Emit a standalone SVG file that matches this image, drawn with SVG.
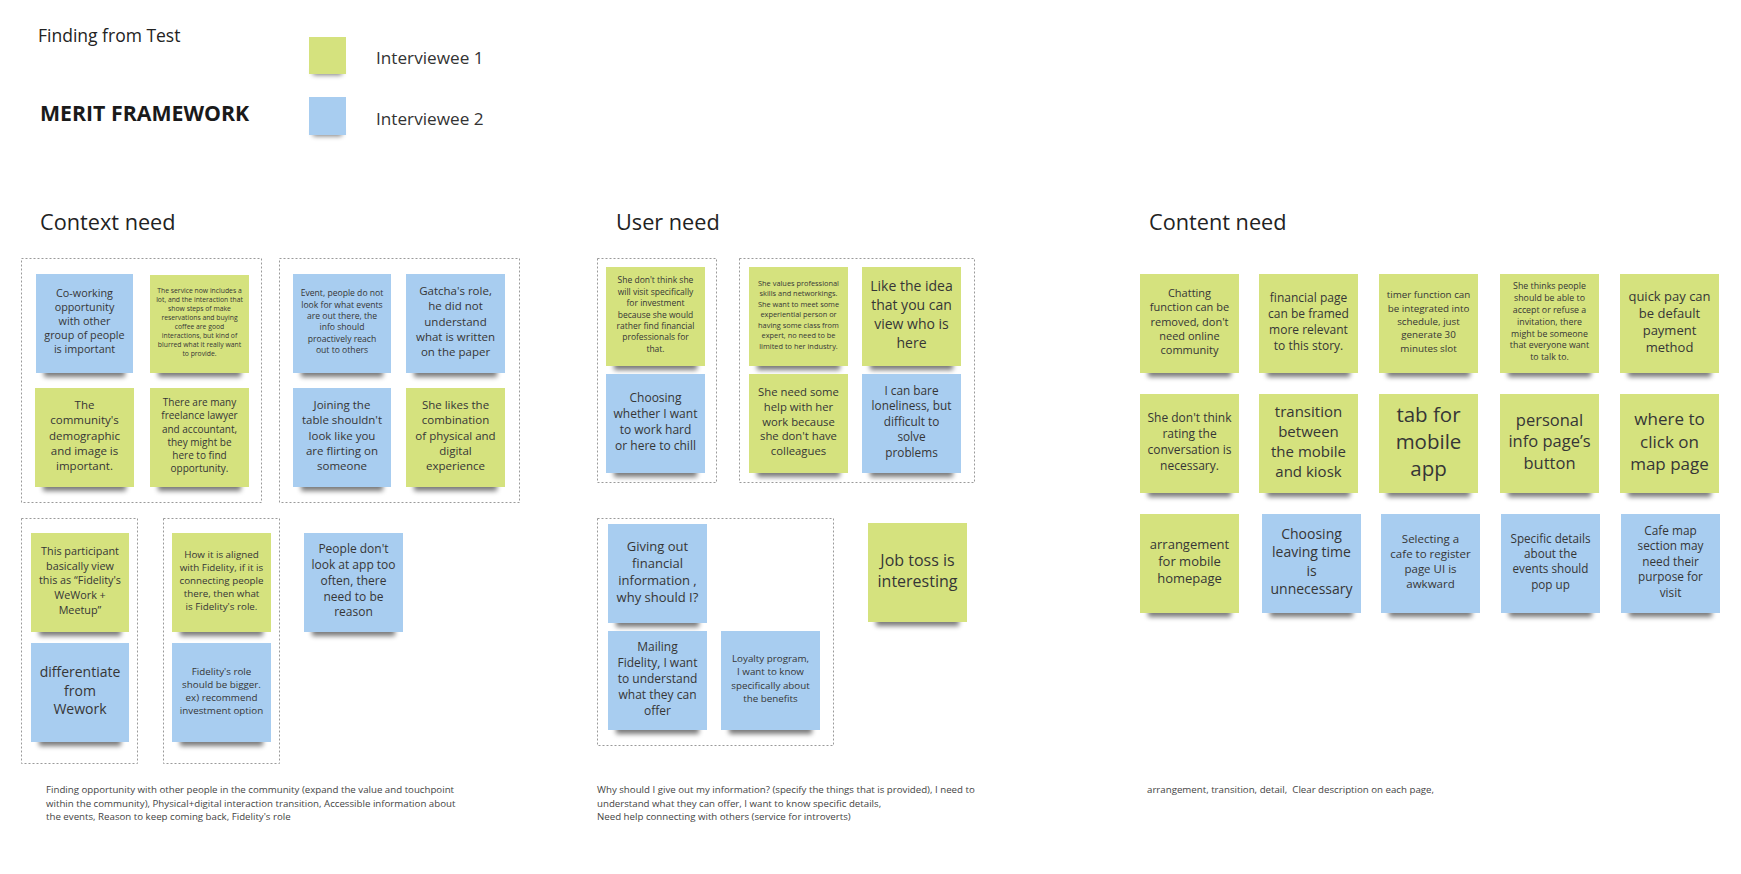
<svg xmlns="http://www.w3.org/2000/svg" width="1741" height="874" viewBox="0 0 1741 874">
<defs>
<filter id="blur" x="-20%" y="-100%" width="140%" height="300%"><feGaussianBlur stdDeviation="2.6"/></filter>
</defs>
<style>
text{font-family:"Open Sans","Liberation Sans",sans-serif;fill:#363636}
.note text{text-anchor:middle}
.g{fill:#d5e27e}
.b{fill:#a8cdf0}
.sh{fill:#000;opacity:.52;filter:url(#blur)}
.box{fill:none;stroke:#9a9a9a;stroke-width:1;stroke-dasharray:2 2}
.h1{font-size:17.5px;fill:#222}
.h2{font-size:21.7px;fill:#222}
.lg{font-size:17.2px;fill:#333}
.fn{font-size:9.7px;fill:#444}
</style>
<rect width="1741" height="874" fill="#fff"/>

<g id="header">
<text class="h1" x="38" y="42">Finding from Test</text>
<text x="40" y="121" style="font-size:21.3px;font-weight:700;fill:#1a1a1a">MERIT FRAMEWORK</text>
<rect class="sh" x="313" y="68" width="29" height="7"/>
<rect class="g" x="309" y="37" width="37" height="37"/>
<rect class="sh" x="313" y="129" width="29" height="7"/>
<rect class="b" x="309" y="97" width="37" height="38"/>
<text class="lg" x="376" y="64">Interviewee 1</text>
<text class="lg" x="376" y="125">Interviewee 2</text>
<text class="h2" x="40" y="230">Context need</text>
<text class="h2" x="616" y="230">User need</text>
<text class="h2" x="1149" y="230">Content need</text>
</g>

<g id="connectors"></g>

<g id="frames">
<rect class="box" x="21.5" y="258.5" width="240" height="244"/>
<rect class="box" x="279.5" y="258.5" width="240" height="244"/>
<rect class="box" x="21.5" y="518.5" width="116" height="245"/>
<rect class="box" x="163.5" y="518.5" width="116" height="245"/>
<rect class="box" x="597.5" y="258.5" width="119" height="224"/>
<rect class="box" x="739.5" y="258.5" width="235" height="224"/>
<rect class="box" x="597.5" y="518.5" width="236" height="227"/>
</g>

<!-- Context need -->
<g id="n-cowork" class="note"><rect class="sh" x="44" y="367" width="81" height="10"/><rect class="b" x="36" y="274" width="97" height="99"/>
<text style="font-size:10.8px"><tspan x="84.5" y="297.4">Co-working</tspan><tspan x="84.5" y="311.4">opportunity</tspan><tspan x="84.5" y="325.4">with other</tspan><tspan x="84.5" y="339.4">group of people</tspan><tspan x="84.5" y="353.4">is important</tspan></text></g>

<g id="n-service" class="note"><rect class="sh" x="158" y="367" width="83" height="10"/><rect class="g" x="150" y="275" width="99" height="98"/>
<text style="font-size:6.8px"><tspan x="199.5" y="293">The service now includes a</tspan><tspan x="199.5" y="302">lot, and the interaction that</tspan><tspan x="199.5" y="311">show steps of make</tspan><tspan x="199.5" y="320">reservations and buying</tspan><tspan x="199.5" y="329">coffee are good</tspan><tspan x="199.5" y="338">interactions, but kind of</tspan><tspan x="199.5" y="347">blurred what it really want</tspan><tspan x="199.5" y="356">to provide.</tspan></text></g>

<g id="n-demographic" class="note"><rect class="sh" x="43" y="481" width="83" height="10"/><rect class="g" x="35" y="388" width="99" height="99"/>
<text style="font-size:11.5px"><tspan x="84.5" y="409">The</tspan><tspan x="84.5" y="424.3">community's</tspan><tspan x="84.5" y="439.6">demographic</tspan><tspan x="84.5" y="454.9">and image is</tspan><tspan x="84.5" y="470.2">important.</tspan></text></g>

<g id="n-freelance" class="note"><rect class="sh" x="158" y="481" width="83" height="10"/><rect class="g" x="150" y="388" width="99" height="99"/>
<text style="font-size:10px"><tspan x="199.5" y="406.1">There are many</tspan><tspan x="199.5" y="419.3">freelance lawyer</tspan><tspan x="199.5" y="432.5">and accountant,</tspan><tspan x="199.5" y="445.7">they might be</tspan><tspan x="199.5" y="458.9">here to find</tspan><tspan x="199.5" y="472.1">opportunity.</tspan></text></g>

<g id="n-event" class="note"><rect class="sh" x="301" y="367" width="82" height="10"/><rect class="b" x="293" y="274" width="98" height="99"/>
<text style="font-size:8.6px"><tspan x="342" y="296.4">Event, people do not</tspan><tspan x="342" y="307.7">look for what events</tspan><tspan x="342" y="319">are out there, the</tspan><tspan x="342" y="330.3">info should</tspan><tspan x="342" y="341.6">proactively reach</tspan><tspan x="342" y="352.9">out to others</tspan></text></g>

<g id="n-gatcha" class="note"><rect class="sh" x="414" y="367" width="83" height="10"/><rect class="b" x="406" y="274" width="99" height="99"/>
<text style="font-size:11.5px"><tspan x="455.5" y="294.8">Gatcha's role,</tspan><tspan x="455.5" y="310.2">he did not</tspan><tspan x="455.5" y="325.6">understand</tspan><tspan x="455.5" y="341">what is written</tspan><tspan x="455.5" y="356.4">on the paper</tspan></text></g>

<g id="n-joining" class="note"><rect class="sh" x="301" y="481" width="82" height="10"/><rect class="b" x="293" y="388" width="98" height="99"/>
<text style="font-size:11.5px"><tspan x="342" y="408.8">Joining the</tspan><tspan x="342" y="424.2">table shouldn't</tspan><tspan x="342" y="439.6">look like you</tspan><tspan x="342" y="455">are flirting on</tspan><tspan x="342" y="470.4">someone</tspan></text></g>

<g id="n-likes" class="note"><rect class="sh" x="414" y="481" width="83" height="10"/><rect class="g" x="406" y="388" width="99" height="99"/>
<text style="font-size:11.5px"><tspan x="455.5" y="408.8">She likes the</tspan><tspan x="455.5" y="424.2">combination</tspan><tspan x="455.5" y="439.6">of physical and</tspan><tspan x="455.5" y="455">digital</tspan><tspan x="455.5" y="470.4">experience</tspan></text></g>

<g id="n-participant" class="note"><rect class="sh" x="39" y="626" width="82" height="10"/><rect class="g" x="31" y="533" width="98" height="99"/>
<text style="font-size:10.8px"><tspan x="80" y="555.2">This participant</tspan><tspan x="80" y="569.8">basically view</tspan><tspan x="80" y="584.4">this as “Fidelity's</tspan><tspan x="80" y="599">WeWork +</tspan><tspan x="80" y="613.6">Meetup”</tspan></text></g>

<g id="n-differentiate" class="note"><rect class="sh" x="39" y="736" width="82" height="10"/><rect class="b" x="31" y="643" width="98" height="99"/>
<text style="font-size:14px"><tspan x="80" y="676.7">differentiate</tspan><tspan x="80" y="695.5">from</tspan><tspan x="80" y="714.3">Wework</tspan></text></g>

<g id="n-aligned" class="note"><rect class="sh" x="180" y="626" width="83" height="10"/><rect class="g" x="172" y="533" width="99" height="99"/>
<text style="font-size:9.8px"><tspan x="221.5" y="557.6">How it is aligned</tspan><tspan x="221.5" y="570.8">with Fidelity, if it is</tspan><tspan x="221.5" y="584">connecting people</tspan><tspan x="221.5" y="597.2">there, then what</tspan><tspan x="221.5" y="610.4">is Fidelity's role.</tspan></text></g>

<g id="n-role" class="note"><rect class="sh" x="180" y="736" width="83" height="10"/><rect class="b" x="172" y="643" width="99" height="99"/>
<text style="font-size:9.8px"><tspan x="221.5" y="674.5">Fidelity's role</tspan><tspan x="221.5" y="687.5">should be bigger.</tspan><tspan x="221.5" y="700.5">ex) recommend</tspan><tspan x="221.5" y="713.5">investment option</tspan></text></g>

<g id="n-app" class="note"><rect class="sh" x="312" y="626" width="83" height="10"/><rect class="b" x="304" y="533" width="99" height="99"/>
<text style="font-size:12px"><tspan x="353.5" y="553.2">People don't</tspan><tspan x="353.5" y="569">look at app too</tspan><tspan x="353.5" y="584.8">often, there</tspan><tspan x="353.5" y="600.6">need to be</tspan><tspan x="353.5" y="616.4">reason</tspan></text></g>

<!-- User need -->
<g id="n-visit" class="note"><rect class="sh" x="614" y="360" width="83" height="10"/><rect class="g" x="606" y="267" width="99" height="99"/>
<text style="font-size:8.5px"><tspan x="655.5" y="283.4">She don't think she</tspan><tspan x="655.5" y="294.8">will visit specifically</tspan><tspan x="655.5" y="306.2">for investment</tspan><tspan x="655.5" y="317.6">because she would</tspan><tspan x="655.5" y="329">rather find financial</tspan><tspan x="655.5" y="340.4">professionals for</tspan><tspan x="655.5" y="351.8">that.</tspan></text></g>

<g id="n-choosing" class="note"><rect class="sh" x="614" y="467" width="83" height="10"/><rect class="b" x="606" y="374" width="99" height="99"/>
<text style="font-size:12px"><tspan x="655.5" y="402.1">Choosing</tspan><tspan x="655.5" y="417.9">whether I want</tspan><tspan x="655.5" y="433.7">to work hard</tspan><tspan x="655.5" y="449.5">or here to chill</tspan></text></g>

<g id="n-values" class="note"><rect class="sh" x="757" y="360" width="83" height="10"/><rect class="g" x="749" y="267" width="99" height="99"/>
<text style="font-size:7.4px"><tspan x="798.5" y="285.7">She values professional</tspan><tspan x="798.5" y="296.2">skills and networkings.</tspan><tspan x="798.5" y="306.7">She want to meet some</tspan><tspan x="798.5" y="317.2">experiential person or</tspan><tspan x="798.5" y="327.7">having some class from</tspan><tspan x="798.5" y="338.2">expert, no need to be</tspan><tspan x="798.5" y="348.7">limited to her industry.</tspan></text></g>

<g id="n-idea" class="note"><rect class="sh" x="870" y="360" width="83" height="10"/><rect class="g" x="862" y="267" width="99" height="99"/>
<text style="font-size:14px"><tspan x="911.5" y="290.7">Like the idea</tspan><tspan x="911.5" y="309.9">that you can</tspan><tspan x="911.5" y="329.1">view who is</tspan><tspan x="911.5" y="348.3">here</tspan></text></g>

<g id="n-help" class="note"><rect class="sh" x="757" y="467" width="83" height="10"/><rect class="g" x="749" y="374" width="99" height="99"/>
<text style="font-size:11.3px"><tspan x="798.5" y="396">She need some</tspan><tspan x="798.5" y="410.8">help with her</tspan><tspan x="798.5" y="425.6">work because</tspan><tspan x="798.5" y="440.4">she don't have</tspan><tspan x="798.5" y="455.2">colleagues</tspan></text></g>

<g id="n-loneliness" class="note"><rect class="sh" x="870" y="467" width="83" height="10"/><rect class="b" x="862" y="374" width="99" height="99"/>
<text style="font-size:11.8px"><tspan x="911.5" y="394.6">I can bare</tspan><tspan x="911.5" y="410.2">loneliness, but</tspan><tspan x="911.5" y="425.8">difficult to</tspan><tspan x="911.5" y="441.4">solve</tspan><tspan x="911.5" y="457">problems</tspan></text></g>

<g id="n-giving" class="note"><rect class="sh" x="616" y="617" width="83" height="10"/><rect class="b" x="608" y="524" width="99" height="99"/>
<text style="font-size:13px"><tspan x="657.5" y="550.7">Giving out</tspan><tspan x="657.5" y="567.7">financial</tspan><tspan x="657.5" y="584.7">information ,</tspan><tspan x="657.5" y="601.7">why should I?</tspan></text></g>

<g id="n-mailing" class="note"><rect class="sh" x="616" y="724" width="83" height="10"/><rect class="b" x="608" y="631" width="99" height="99"/>
<text style="font-size:12px"><tspan x="657.5" y="650.8">Mailing</tspan><tspan x="657.5" y="666.8">Fidelity, I want</tspan><tspan x="657.5" y="682.8">to understand</tspan><tspan x="657.5" y="698.8">what they can</tspan><tspan x="657.5" y="714.8">offer</tspan></text></g>

<g id="n-loyalty" class="note"><rect class="sh" x="729" y="724" width="83" height="10"/><rect class="b" x="721" y="631" width="99" height="99"/>
<text style="font-size:9.8px"><tspan x="770.5" y="662.2">Loyalty program,</tspan><tspan x="770.5" y="675.4">I want to know</tspan><tspan x="770.5" y="688.6">specifically about</tspan><tspan x="770.5" y="701.8">the benefits</tspan></text></g>

<g id="n-jobtoss" class="note"><rect class="sh" x="876" y="616" width="83" height="10"/><rect class="g" x="868" y="523" width="99" height="99"/>
<text style="font-size:16px"><tspan x="917.5" y="565.6">Job toss is</tspan><tspan x="917.5" y="586.9">interesting</tspan></text></g>

<!-- Content need row 1 -->
<g id="n-chatting" class="note"><rect class="sh" x="1148" y="367" width="83" height="10"/><rect class="g" x="1140" y="274" width="99" height="99"/>
<text style="font-size:11px"><tspan x="1189.5" y="296.7">Chatting</tspan><tspan x="1189.5" y="311.1">function can be</tspan><tspan x="1189.5" y="325.5">removed, don't</tspan><tspan x="1189.5" y="339.9">need online</tspan><tspan x="1189.5" y="354.3">community</tspan></text></g>

<g id="n-financial" class="note"><rect class="sh" x="1267" y="367" width="83" height="10"/><rect class="g" x="1259" y="274" width="99" height="99"/>
<text style="font-size:12px"><tspan x="1308.5" y="302.1">financial page</tspan><tspan x="1308.5" y="317.9">can be framed</tspan><tspan x="1308.5" y="333.7">more relevant</tspan><tspan x="1308.5" y="349.5">to this story.</tspan></text></g>

<g id="n-timer" class="note"><rect class="sh" x="1387" y="367" width="83" height="10"/><rect class="g" x="1379" y="274" width="99" height="99"/>
<text style="font-size:9.8px"><tspan x="1428.5" y="298.4">timer function can</tspan><tspan x="1428.5" y="311.7">be integrated into</tspan><tspan x="1428.5" y="325">schedule, just</tspan><tspan x="1428.5" y="338.3">generate 30</tspan><tspan x="1428.5" y="351.6">minutes slot</tspan></text></g>

<g id="n-invitation" class="note"><rect class="sh" x="1508" y="367" width="83" height="10"/><rect class="g" x="1500" y="274" width="99" height="99"/>
<text style="font-size:8.8px"><tspan x="1549.5" y="289.3">She thinks people</tspan><tspan x="1549.5" y="301.1">should be able to</tspan><tspan x="1549.5" y="312.9">accept or refuse a</tspan><tspan x="1549.5" y="324.7">invitation, there</tspan><tspan x="1549.5" y="336.5">might be someone</tspan><tspan x="1549.5" y="348.3">that everyone want</tspan><tspan x="1549.5" y="360.1">to talk to.</tspan></text></g>

<g id="n-quickpay" class="note"><rect class="sh" x="1628" y="367" width="83" height="10"/><rect class="g" x="1620" y="274" width="99" height="99"/>
<text style="font-size:13px"><tspan x="1669.5" y="300.8">quick pay can</tspan><tspan x="1669.5" y="317.7">be default</tspan><tspan x="1669.5" y="334.6">payment</tspan><tspan x="1669.5" y="351.5">method</tspan></text></g>

<!-- Content need row 2 -->
<g id="n-rating" class="note"><rect class="sh" x="1148" y="487" width="83" height="10"/><rect class="g" x="1140" y="394" width="99" height="99"/>
<text style="font-size:12px"><tspan x="1189.5" y="422">She don't think</tspan><tspan x="1189.5" y="437.9">rating the</tspan><tspan x="1189.5" y="453.8">conversation is</tspan><tspan x="1189.5" y="469.7">necessary.</tspan></text></g>

<g id="n-transition" class="note"><rect class="sh" x="1267" y="487" width="83" height="10"/><rect class="g" x="1259" y="394" width="99" height="99"/>
<text style="font-size:15px"><tspan x="1308.5" y="416.8">transition</tspan><tspan x="1308.5" y="436.9">between</tspan><tspan x="1308.5" y="457">the mobile</tspan><tspan x="1308.5" y="477.1">and kiosk</tspan></text></g>

<g id="n-tab" class="note"><rect class="sh" x="1387" y="487" width="83" height="10"/><rect class="g" x="1379" y="394" width="99" height="99"/>
<text style="font-size:20.5px"><tspan x="1428.5" y="421.7">tab for</tspan><tspan x="1428.5" y="448.9">mobile</tspan><tspan x="1428.5" y="476.1">app</tspan></text></g>

<g id="n-personal" class="note"><rect class="sh" x="1508" y="487" width="83" height="10"/><rect class="g" x="1500" y="394" width="99" height="99"/>
<text style="font-size:16.5px"><tspan x="1549.5" y="426.2">personal</tspan><tspan x="1549.5" y="447.4">info page’s</tspan><tspan x="1549.5" y="468.6">button</tspan></text></g>

<g id="n-map" class="note"><rect class="sh" x="1628" y="487" width="83" height="10"/><rect class="g" x="1620" y="394" width="99" height="99"/>
<text style="font-size:17px"><tspan x="1669.5" y="424.8">where to</tspan><tspan x="1669.5" y="447.6">click on</tspan><tspan x="1669.5" y="470.4">map page</tspan></text></g>

<!-- Content need row 3 -->
<g id="n-arrangement" class="note"><rect class="sh" x="1148" y="607" width="83" height="10"/><rect class="g" x="1140" y="514" width="99" height="99"/>
<text style="font-size:13px"><tspan x="1189.5" y="549">arrangement</tspan><tspan x="1189.5" y="566.2">for mobile</tspan><tspan x="1189.5" y="583.4">homepage</tspan></text></g>

<g id="n-leaving" class="note"><rect class="sh" x="1270" y="607" width="83" height="10"/><rect class="b" x="1262" y="514" width="99" height="99"/>
<text style="font-size:14px"><tspan x="1311.5" y="538.8">Choosing</tspan><tspan x="1311.5" y="557.3">leaving time</tspan><tspan x="1311.5" y="575.8">is</tspan><tspan x="1311.5" y="594.3">unnecessary</tspan></text></g>

<g id="n-selecting" class="note"><rect class="sh" x="1389" y="607" width="83" height="10"/><rect class="b" x="1381" y="514" width="99" height="99"/>
<text style="font-size:11.5px"><tspan x="1430.5" y="542.8">Selecting a</tspan><tspan x="1430.5" y="558">cafe to register</tspan><tspan x="1430.5" y="573.2">page UI is</tspan><tspan x="1430.5" y="588.4">awkward</tspan></text></g>

<g id="n-details" class="note"><rect class="sh" x="1509" y="607" width="83" height="10"/><rect class="b" x="1501" y="514" width="99" height="99"/>
<text style="font-size:11.7px"><tspan x="1550.5" y="542.6">Specific details</tspan><tspan x="1550.5" y="558">about the</tspan><tspan x="1550.5" y="573.4">events should</tspan><tspan x="1550.5" y="588.8">pop up</tspan></text></g>

<g id="n-cafemap" class="note"><rect class="sh" x="1629" y="607" width="83" height="10"/><rect class="b" x="1621" y="514" width="99" height="99"/>
<text style="font-size:11.8px"><tspan x="1670.5" y="534.8">Cafe map</tspan><tspan x="1670.5" y="550.3">section may</tspan><tspan x="1670.5" y="565.8">need their</tspan><tspan x="1670.5" y="581.3">purpose for</tspan><tspan x="1670.5" y="596.8">visit</tspan></text></g>

<g id="footnotes">
<text class="fn"><tspan x="46" y="793">Finding opportunity with other people in the community (expand the value and touchpoint</tspan><tspan x="46" y="806.5">within the community), Physical+digital interaction transition, Accessible information about</tspan><tspan x="46" y="820">the events, Reason to keep coming back, Fidelity's role</tspan></text>
<text class="fn"><tspan x="597" y="793">Why should I give out my information? (specify the things that is provided), I need to</tspan><tspan x="597" y="806.5">understand what they can offer, I want to know specific details,</tspan><tspan x="597" y="820">Need help connecting with others (service for introverts)</tspan></text>
<text class="fn" x="1147" y="793" xml:space="preserve">arrangement, transition, detail,  Clear description on each page,</text>
</g>
</svg>
